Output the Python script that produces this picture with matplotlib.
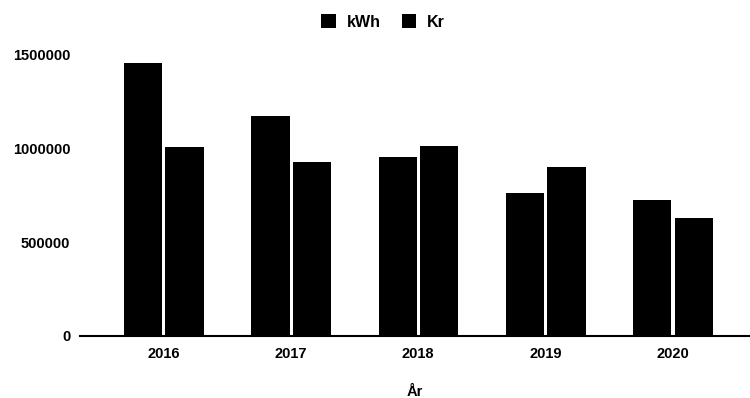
import numpy as np
import matplotlib.pyplot as plt

plt.rcParams['font.family'] = ['Liberation Sans', 'DejaVu Sans']

years = ['2016', '2017', '2018', '2019', '2020']
kwh = [1457000, 1174000, 954000, 761000, 723000]
kr = [1007000, 927000, 1013000, 900000, 627000]

fig = plt.figure(figsize=(7.5, 3.98), dpi=100)
ax = fig.add_axes([0.1067, 0.156, 0.8933, 0.706])

x = np.arange(len(years))
w = 0.3
ax.bar(x - 0.16, kwh, w, color='black', label='kWh')
ax.bar(x + 0.165, kr, w, color='black', label='Kr')

ax.set_xlim(-0.656, 4.607)
ax.set_ylim(0, 1500000)
ax.set_yticks([0, 500000, 1000000, 1500000])
ax.set_yticklabels(['0', '500000', '1000000', '1500000'])
ax.set_xticks(x)
ax.set_xticklabels(years)

for s in ['top', 'right', 'left']:
    ax.spines[s].set_visible(False)
ax.spines['bottom'].set_linewidth(1.5)
ax.tick_params(axis='y', length=0, pad=7, labelsize=10.5)
ax.tick_params(axis='x', length=0, pad=8, labelsize=10.5)
for t in ax.get_xticklabels() + ax.get_yticklabels():
    t.set_fontweight('bold')

ax.set_xlabel('År', fontsize=10.5, fontweight='bold', labelpad=17)

fig.legend(loc='upper center', bbox_to_anchor=(0.511, 1.0), ncol=2, frameon=False,
           handlelength=0.9, handleheight=0.9, handletextpad=0.7, columnspacing=1.3,
           prop={'weight': 'bold', 'size': 11.5})

fig.savefig('out.png', dpi=100)
